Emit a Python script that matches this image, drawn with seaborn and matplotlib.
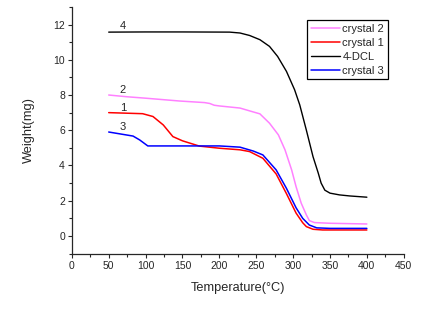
import matplotlib
matplotlib.use("Agg")
import matplotlib.pyplot as plt
import seaborn as sns
from matplotlib.ticker import MultipleLocator

# TGA curves
temp_c2 = [50, 75, 100, 146, 180, 187, 193, 200, 228, 241, 255, 268, 280, 289,
           298, 304, 311, 318, 322, 329, 350, 400]
weight_c2 = [8.0, 7.9, 7.82, 7.66, 7.57, 7.52, 7.42, 7.38, 7.26, 7.1, 6.93, 6.4, 5.74, 4.89,
             3.75, 2.8, 1.86, 1.19, 0.87, 0.76, 0.72, 0.68]

temp_c1 = [50, 96, 110, 124, 137, 150, 173, 200, 228, 241, 259, 277, 291, 304,
           313, 318, 327, 340, 400]
weight_c1 = [7.0, 6.94, 6.78, 6.3, 5.64, 5.4, 5.1, 4.98, 4.89, 4.79, 4.41, 3.52, 2.4, 1.3,
             0.75, 0.53, 0.38, 0.34, 0.34]

temp_dcl = [50, 100, 150, 214, 228, 241, 255, 268, 279, 291, 302, 309, 318, 327,
            334, 338, 343, 350, 363, 377, 400]
weight_dcl = [11.57, 11.58, 11.58, 11.57, 11.52, 11.38, 11.14, 10.76, 10.19, 9.34, 8.3, 7.44, 6.0, 4.5,
              3.58, 3.0, 2.6, 2.43, 2.33, 2.27, 2.2]

temp_c3 = [50, 83, 92, 103, 146, 200, 228, 246, 259, 277, 291, 304, 313, 322,
           332, 350, 400]
weight_c3 = [5.9, 5.67, 5.45, 5.11, 5.11, 5.11, 5.04, 4.82, 4.6, 3.75, 2.7, 1.6, 1.0, 0.62,
             0.46, 0.43, 0.43]

sns.set_style("ticks")
plt.rcParams["font.family"] = ["Liberation Sans", "DejaVu Sans"]

fig = plt.figure(figsize=(4.25, 3.15), dpi=100)
ax = fig.add_axes([0.169, 0.195, 0.781, 0.783])

sns.lineplot(x=temp_c2, y=weight_c2, color="#ff80ff", lw=1.1, label="crystal 2", ax=ax)
sns.lineplot(x=temp_c1, y=weight_c1, color="#ff0000", lw=1.1, label="crystal 1", ax=ax)
sns.lineplot(x=temp_dcl, y=weight_dcl, color="black", lw=1.0, label="4-DCL", ax=ax)
sns.lineplot(x=temp_c3, y=weight_c3, color="#0000ff", lw=1.1, label="crystal 3", ax=ax)

# curve numbers
ax.text(65, 11.75, "4", fontsize=8)
ax.text(65, 8.1, "2", fontsize=8)
ax.text(65, 7.1, "1", fontsize=8)
ax.text(65, 6.0, "3", fontsize=8)

ax.set_xlim(0, 450)
ax.set_ylim(-1, 13)
ax.xaxis.set_major_locator(MultipleLocator(50))
ax.xaxis.set_minor_locator(MultipleLocator(25))
ax.yaxis.set_major_locator(MultipleLocator(2))
ax.yaxis.set_minor_locator(MultipleLocator(1))
ax.tick_params(which="major", length=3, width=0.8, labelsize=7.5, pad=2)
ax.tick_params(which="minor", length=2, width=0.8)
sns.despine(ax=ax)
for s in ["left", "bottom"]:
    ax.spines[s].set_linewidth(0.9)

ax.set_xlabel("Temperature(°C)", fontsize=9.2, labelpad=8)
ax.set_ylabel("Weight(mg)", fontsize=9.2, labelpad=13)

leg = ax.legend(loc="upper left", bbox_to_anchor=(0.708, 0.947), fontsize=8,
                frameon=True, fancybox=False, edgecolor="black", framealpha=1,
                borderpad=0.35, labelspacing=0.35, handlelength=2.6, handletextpad=0.25,
                borderaxespad=0)
leg.get_frame().set_linewidth(0.9)

fig.savefig("out.png", dpi=100)
